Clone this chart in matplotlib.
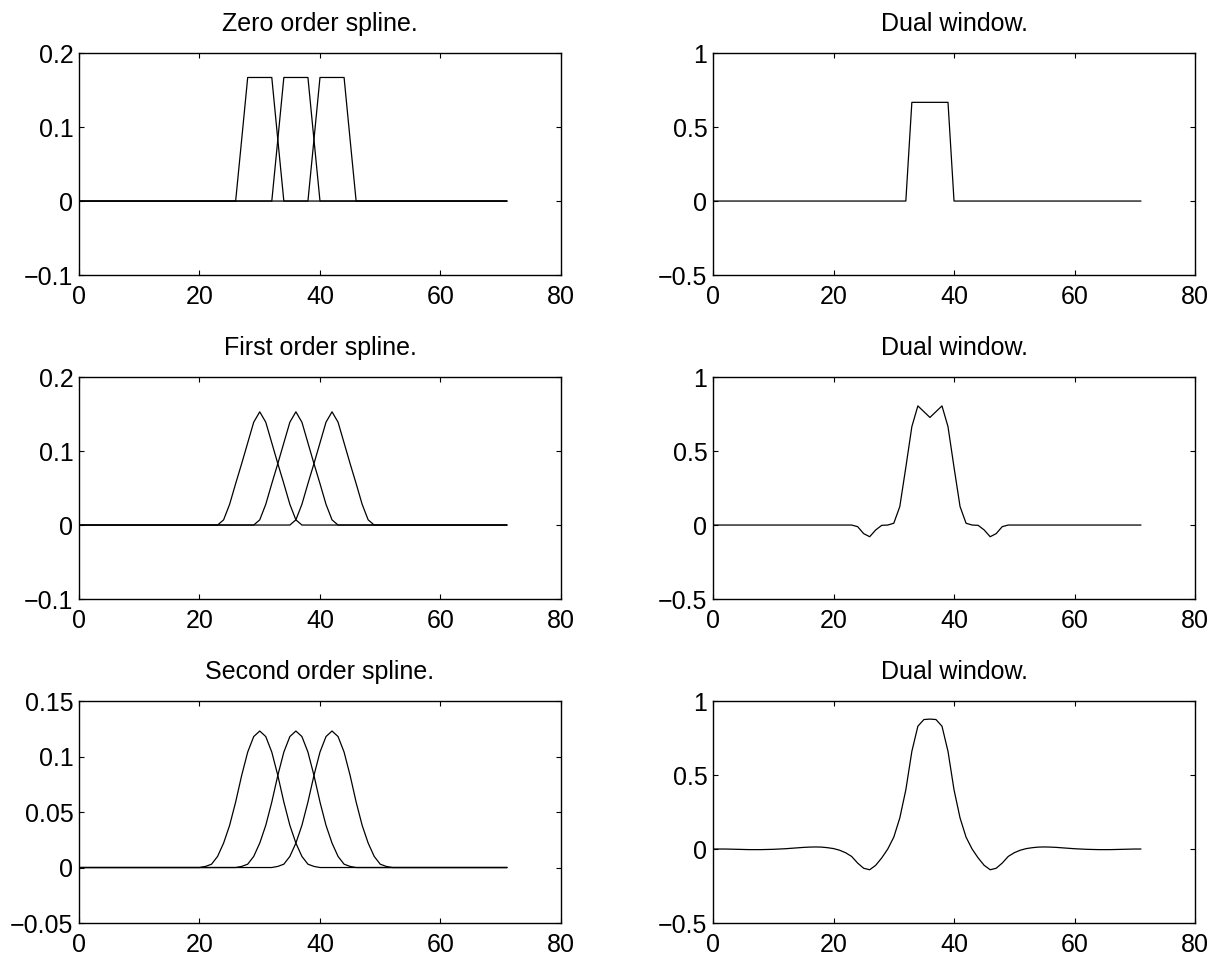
import numpy as np
import matplotlib
matplotlib.use('Agg')
from matplotlib import pyplot as plt

plt.rcParams['font.family'] = ['Liberation Sans', 'DejaVu Sans']
plt.rcParams['font.size'] = 18

# sample index 0..71
n = np.arange(72)

# spline profiles (values read around each centre, offsets -k..k)
centres = [30, 36, 42]
spline0 = [0.0, 0.083, 0.167, 0.167, 0.167, 0.167, 0.167, 0.083, 0.0]
spline1 = [0.0, 0.007, 0.028, 0.056, 0.083, 0.111, 0.139, 0.153,
           0.139, 0.111, 0.083, 0.056, 0.028, 0.007, 0.0]
spline2 = [0.0, 0.001, 0.003, 0.010, 0.022, 0.038, 0.059, 0.083, 0.104, 0.118, 0.123,
           0.118, 0.104, 0.083, 0.059, 0.038, 0.022, 0.010, 0.003, 0.001, 0.0]

# dual windows, one value per sample 0..71
dual0 = [0.0] * 33 + [0.667] * 7 + [0.0] * 32

dual1 = ([0.0] * 23 +
         [0.0, -0.011, -0.058, -0.079, -0.033, -0.002, 0.0, 0.012, 0.125, 0.39,
          0.665, 0.805, 0.766, 0.727, 0.766, 0.805, 0.665,
          0.39, 0.125, 0.012, 0.0, -0.002, -0.033, -0.079, -0.058, -0.011, 0.0] +
         [0.0] * 22)

dual2 = [0.0, 0.0, 0.0, -0.001, -0.002, -0.003, -0.004, -0.004, -0.004, -0.003,
         -0.002, 0.0, 0.002, 0.005, 0.008, 0.011, 0.013, 0.014, 0.013, 0.009,
         0.003, -0.008, -0.025, -0.05, -0.095, -0.13, -0.14, -0.11, -0.06, 0.0,
         0.08, 0.21, 0.40, 0.66, 0.83, 0.875, 0.878, 0.875, 0.83, 0.66,
         0.40, 0.21, 0.08, 0.0, -0.06, -0.11, -0.14, -0.13, -0.095, -0.05,
         -0.025, -0.008, 0.003, 0.009, 0.013, 0.014, 0.013, 0.011, 0.008, 0.005,
         0.002, 0.0, -0.002, -0.003, -0.004, -0.004, -0.004, -0.003, -0.002, -0.001,
         0.0, 0.0]

left_titles = ['Zero order spline.', 'First order spline.', 'Second order spline.']
splines = [spline0, spline1, spline2]
duals = [dual0, dual1, dual2]
left_ylims = [(-0.1, 0.2), (-0.1, 0.2), (-0.05, 0.15)]
left_yticks = [[-0.1, 0, 0.1, 0.2], [-0.1, 0, 0.1, 0.2], [-0.05, 0, 0.05, 0.1, 0.15]]
left_ylabels = [['\u22120.1', '0', '0.1', '0.2'], ['\u22120.1', '0', '0.1', '0.2'],
                ['\u22120.05', '0', '0.05', '0.1', '0.15']]

fig = plt.figure(figsize=(12.1, 9.56), dpi=100)

row_bottoms = [0.7123, 0.3734, 0.0345]
w, h = 0.3983, 0.2322


def style(ax):
    ax.set_xlim(0, 80)
    ax.set_xticks([0, 20, 40, 60, 80])
    ax.tick_params(direction='in', top=True, right=True, length=3.5, width=0.8)
    ax.tick_params(axis='x', pad=7)
    ax.tick_params(axis='y', pad=4)
    for s in ax.spines.values():
        s.set_linewidth(1.0)


for i in range(3):
    ax = fig.add_axes([0.0653, row_bottoms[i], w, h])
    prof = np.array(splines[i])
    k = (len(prof) - 1) // 2
    for c in centres:
        y = np.zeros(72)
        y[c - k:c + k + 1] = prof
        ax.plot(n, y, color='black', lw=0.9)
    style(ax)
    ax.set_ylim(*left_ylims[i])
    ax.set_yticks(left_yticks[i])
    ax.set_yticklabels(left_ylabels[i])
    ax.set_title(left_titles[i], fontsize=18, pad=16)

    ax2 = fig.add_axes([0.5893, row_bottoms[i], w, h])
    ax2.plot(n, duals[i], color='black', lw=0.9)
    style(ax2)
    ax2.set_ylim(-0.5, 1)
    ax2.set_yticks([-0.5, 0, 0.5, 1])
    ax2.set_yticklabels(['\u22120.5', '0', '0.5', '1'])
    ax2.set_title('Dual window.', fontsize=18, pad=16)

plt.savefig('out.png', dpi=100)
